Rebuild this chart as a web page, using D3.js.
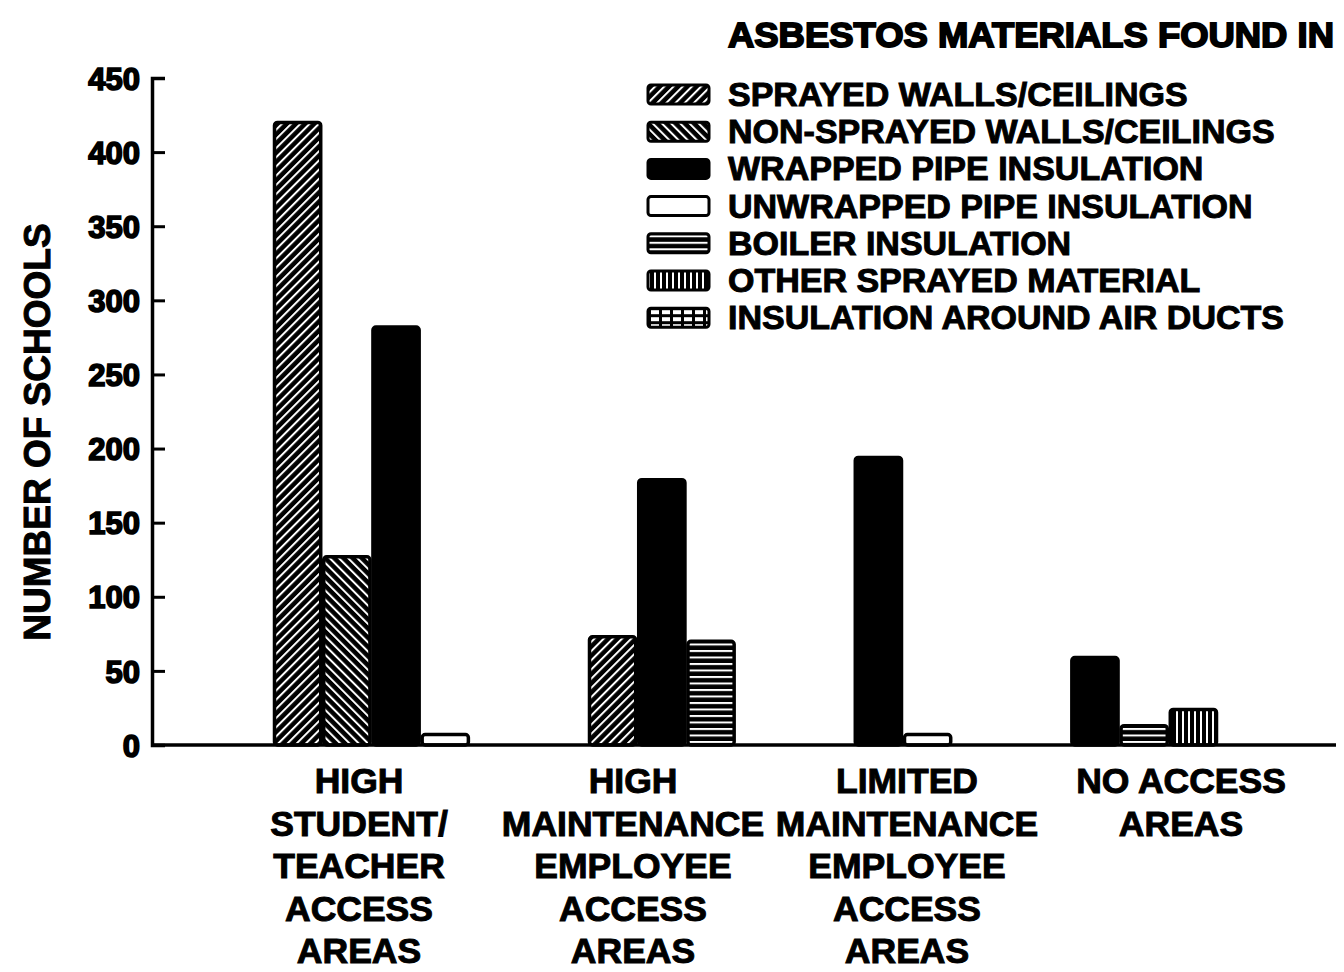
<!DOCTYPE html>
<html>
<head>
<meta charset="utf-8">
<script src="https://cdn.jsdelivr.net/npm/d3@7"></script>
<style>
	body { margin: 0; background: #fff; }
	text { font-family: "Liberation Sans", Arial, sans-serif; font-weight: bold; fill: #000; }
</style>
</head>
<body>
<div id="chart"></div>
<script>
/** Data **/
var categories = ["HIGH STUDENT/TEACHER", "HIGH MAINTENANCE", "LIMITED MAINTENANCE", "NO ACCESS"];
var categoryLines = [
	["HIGH", "STUDENT/", "TEACHER", "ACCESS", "AREAS"],
	["HIGH", "MAINTENANCE", "EMPLOYEE", "ACCESS", "AREAS"],
	["LIMITED", "MAINTENANCE", "EMPLOYEE", "ACCESS", "AREAS"],
	["NO ACCESS", "AREAS"]
];
var seriesNames = [
	"SPRAYED WALLS/CEILINGS",
	"NON-SPRAYED WALLS/CEILINGS",
	"WRAPPED PIPE INSULATION",
	"UNWRAPPED PIPE INSULATION",
	"BOILER INSULATION",
	"OTHER SPRAYED MATERIAL",
	"INSULATION AROUND AIR DUCTS"
];
var sprayed      = [420, 73, 0, 0];
var nonSprayed   = [127, 0, 0, 0];
var wrapped      = [282, 179, 194, 59];
var unwrapped    = [7, 0, 7, 0];
var boiler       = [0, 70, 0, 13];
var otherSprayed = [0, 0, 0, 24];
var airDucts     = [0, 0, 0, 0];
var seriesValues = [sprayed, nonSprayed, wrapped, unwrapped, boiler, otherSprayed, airDucts];
var yTicks = [0, 50, 100, 150, 200, 250, 300, 350, 400, 450];

var title = "ASBESTOS MATERIALS FOUND IN";
var yTitle = "NUMBER OF SCHOOLS";

/** SVG **/
var svg = d3.select("#chart").append("svg")
				.attr("width", 1344)
				.attr("height", 972);

/** Fill patterns **/
var defs = svg.append("defs");

function stripes(id, size, white, angle) {
	var p = defs.append("pattern")
				.attr("id", id)
				.attr("patternUnits", "userSpaceOnUse")
				.attr("width", size)
				.attr("height", size)
				.attr("patternTransform", "rotate(" + angle + ")");
	p.append("rect").attr("width", size).attr("height", size).style("fill", "black");
	p.append("rect").attr("x", 0).attr("y", 0).attr("width", white).attr("height", size).style("fill", "white");
}
stripes("pat0", 6.5, 2, 45);     // ////
stripes("pat1", 6.5, 2, -45);    // \\\\
stripes("pat4", 6.5, 2, 90);     // horizontal
stripes("pat5", 6, 2, 0);        // vertical

var grid = defs.append("pattern")
				.attr("id", "pat6")
				.attr("patternUnits", "userSpaceOnUse")
				.attr("width", 11)
				.attr("height", 7);
grid.append("rect").attr("width", 11).attr("height", 7).style("fill", "black");
grid.append("rect").attr("x", 2).attr("y", 2).attr("width", 8).attr("height", 4).style("fill", "white");

var fills = ["url(#pat0)", "url(#pat1)", "black", "white", "url(#pat4)", "url(#pat5)", "url(#pat6)"];

/** Scales **/
var y = d3.scaleLinear().domain([0, 450]).range([745, 78]);

// bars are packed side by side inside a group, groups separated by a gap
var gapUnits = 2.4;
var bars = [];
var slot = 0;
categories.forEach(function(c, i) {
	if (i > 0) slot += gapUnits;
	seriesValues.forEach(function(vals, j) {
		if (vals[i] > 0) {
			bars.push({cat: c, series: j, value: vals[i], slot: slot});
			slot += 1;
		}
	});
});
var xSlot = d3.scaleLinear().domain([0, slot]).range([273, 1218]);
var barW = xSlot(1) - xSlot(0);

var xLabel = d3.scaleBand().domain(categories).range([222, 1318]);

/** Bars **/
svg.append("g").selectAll("rect")
	.data(bars)
	.join("rect")
		.attr("x", function(d) { return xSlot(d.slot) + 1.5; })
		.attr("y", function(d) { return y(d.value); })
		.attr("width", barW - 3)
		.attr("height", function(d) { return y(0) - y(d.value); })
		.attr("rx", 3)
		.style("fill", function(d) { return fills[d.series]; })
		.style("stroke", "black")
		.style("stroke-width", 3.5);

/** Y axis **/
var yAxis = svg.append("g")
				.attr("transform", "translate(152,0)")
				.call(d3.axisLeft(y)
					.tickValues(yTicks)
					.tickSizeInner(-13)
					.tickSizeOuter(-13)
					.tickPadding(12));
yAxis.select(".domain").style("stroke-width", 3.5).style("fill", "none");
yAxis.selectAll(".tick line").style("stroke-width", 3);
yAxis.selectAll(".tick text")
		.attr("font-size", 31)
		.style("font-family", "'Liberation Sans', Arial, sans-serif")
		.style("stroke", "black")
		.style("stroke-width", 1.6)
		.attr("dy", "0.36em");

/** X baseline **/
svg.append("line")
	.attr("x1", 152)
	.attr("x2", 1336)
	.attr("y1", y(0))
	.attr("y2", y(0))
	.style("stroke", "black")
	.style("stroke-width", 3.5);

/** Category labels **/
var catG = svg.append("g").selectAll("text")
				.data(categories)
				.join("text")
					.attr("text-anchor", "middle")
					.attr("font-size", 35.5)
					.style("stroke", "black")
					.style("stroke-width", 1);
catG.each(function(c, i) {
	d3.select(this).selectAll("tspan")
		.data(categoryLines[i])
		.join("tspan")
			.attr("x", xLabel(c) + xLabel.bandwidth() / 2)
			.attr("y", function(d, k) { return 793 + k * 42.5; })
			.text(function(d) { return d; });
});

/** Y title **/
svg.append("text")
	.attr("transform", "translate(50,432) rotate(-90)")
	.attr("text-anchor", "middle")
	.attr("font-size", 37)
	.style("stroke", "black")
	.style("stroke-width", 1)
	.text(yTitle);

/** Legend **/
svg.append("text")
	.attr("x", 728)
	.attr("y", 47)
	.attr("font-size", 35)
	.attr("textLength", 606)
	.attr("lengthAdjust", "spacingAndGlyphs")
	.style("stroke", "black")
	.style("stroke-width", 1.8)
	.text(title);

var legend = svg.append("g").selectAll("g")
				.data(seriesNames)
				.join("g")
					.attr("transform", function(d, i) { return "translate(0," + (106 + i * 37.2) + ")"; });
legend.append("rect")
	.attr("x", 648)
	.attr("y", -21)
	.attr("width", 61)
	.attr("height", 19)
	.attr("rx", 3)
	.style("fill", function(d, i) { return fills[i]; })
	.style("stroke", "black")
	.style("stroke-width", 3);
legend.append("text")
	.attr("x", 728)
	.attr("y", 0)
	.attr("font-size", 34)
	.style("stroke", "black")
	.style("stroke-width", 1)
	.text(function(d) { return d; });
</script>
</body>
</html>
